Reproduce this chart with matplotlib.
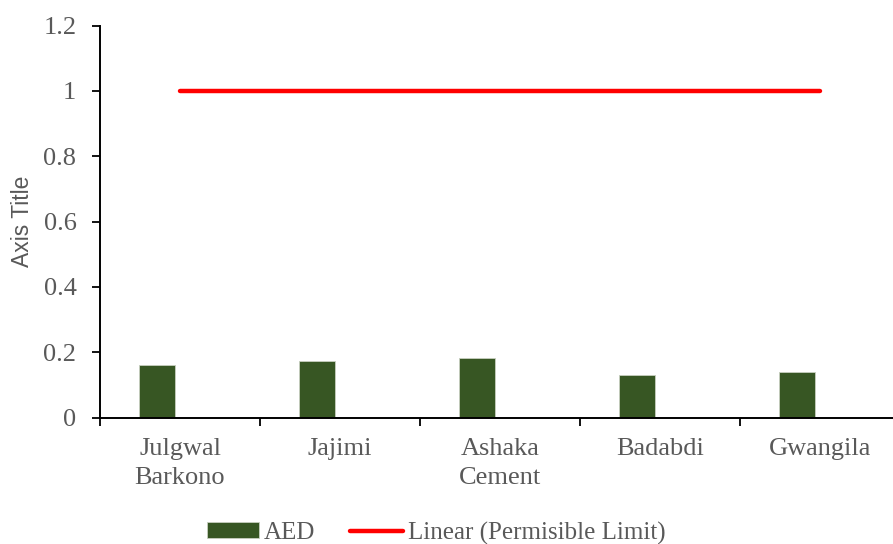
import matplotlib
matplotlib.use("Agg")
import matplotlib.pyplot as plt
import numpy as np

categories = ["Julgwal\nBarkono", "Jajimi", "Ashaka\nCement", "Badabdi", "Gwangila"]
aed = [0.162, 0.174, 0.182, 0.1315, 0.138]
permissible = [1, 1, 1, 1, 1]
yticks = [0, 0.2, 0.4, 0.6, 0.8, 1, 1.2]
ytick_labels = ["0", "0.2", "0.4", "0.6", "0.8", "1", "1.2"]

W, H = 893, 544
fig = plt.figure(figsize=(W / 100, H / 100), dpi=100)
x0, x1 = 100, 900
y0, y1 = 417.5, 25.5
ax = fig.add_axes([x0 / W, 1 - y0 / H, (x1 - x0) / W, (y0 - y1) / H])

x = np.arange(len(categories))
serif = "Liberation Serif"
gray = "#595959"

bars = ax.bar(x - 0.144, aed, width=0.225, color="#375623", edgecolor="#c8d0c0",
              linewidth=0.6, label="AED", zorder=2)
line, = ax.plot(x, permissible, color="#ff0000", linewidth=3.2, solid_capstyle="round",
                label="Linear (Permisible Limit)", zorder=3)

ax.set_xlim(-0.5, len(categories) - 0.5)
ax.set_ylim(0, 1.2)
ax.set_yticks(yticks)
ax.set_yticklabels(ytick_labels, fontfamily=serif, fontsize=19, color=gray)
ax.set_xticks(x)
ax.set_xticklabels(categories, fontfamily=serif, fontsize=19, color=gray, linespacing=1.4)
ax.set_xticks(np.arange(len(categories) + 1) - 0.5, minor=True)
ax.tick_params(axis="x", which="major", length=0, pad=15)
ax.tick_params(axis="x", which="minor", length=6, width=1.3, direction="out", color="black")
ax.tick_params(axis="y", which="major", length=6, width=1.3, direction="out", color="black", pad=11)

for s in ["top", "right"]:
    ax.spines[s].set_visible(False)
for s in ["left", "bottom"]:
    ax.spines[s].set_linewidth(1.4)
    ax.spines[s].set_color("black")

ax.set_ylabel("Axis Title", fontfamily="Liberation Sans", fontsize=16.5, color=gray, labelpad=7)

leg = fig.legend([bars, line], ["AED", "Linear (Permisible Limit)"],
                 loc="center", bbox_to_anchor=(436 / W, 1 - 533 / H), ncol=2, frameon=False,
                 prop={"family": serif, "size": 18}, handlelength=2.1, handleheight=0.6,
                 handletextpad=0.2, columnspacing=1.4, labelcolor=gray)

fig.savefig("out.png", dpi=100)
